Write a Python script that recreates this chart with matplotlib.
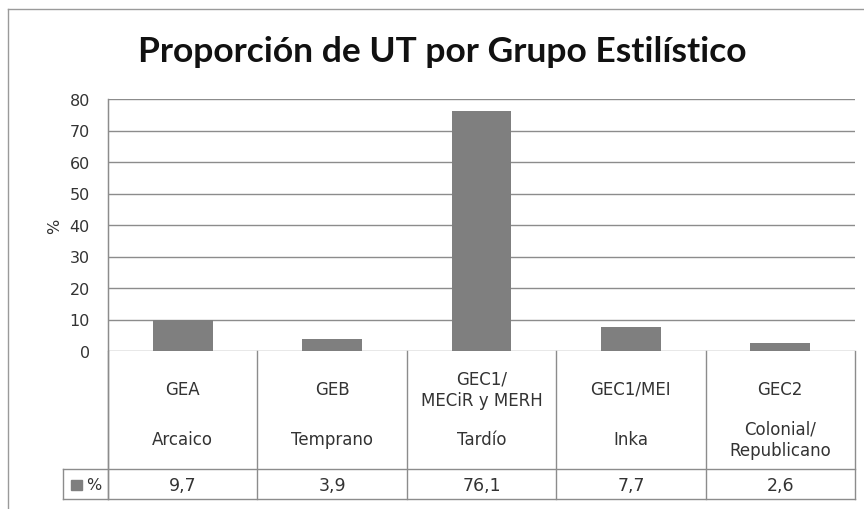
import matplotlib.pyplot as plt
from matplotlib.lines import Line2D
from matplotlib.patches import Rectangle

# ---------------------------
# Data
# ---------------------------
grupos = ["GEA", "GEB", "GEC1/\nMECiR y MERH", "GEC1/MEI", "GEC2"]
periodos = ["Arcaico", "Temprano", "Tardío", "Inka", "Colonial/\nRepublicano"]
valores = [9.7, 3.9, 76.1, 7.7, 2.6]
etiquetas = ["9,7", "3,9", "76,1", "7,7", "2,6"]
yticks = [0, 10, 20, 30, 40, 50, 60, 70, 80]

W, H = 864, 510
bar_color = "#7f7f7f"
line_color = "#8c8c8c"
txt_color = "#333333"
font = "DejaVu Sans"

fig = plt.figure(figsize=(W / 100, H / 100), dpi=100)

# pixel helpers (figure coords from top-left pixels)
def fx(px):
    return px / W

def fy(py):
    return 1 - py / H

left, right, top, bottom = 108, 855, 100, 352
ax = fig.add_axes([fx(left), fy(bottom), fx(right - left), fy(top) - fy(bottom)])

x = list(range(len(valores)))
ax.bar(x, valores, width=0.4, color=bar_color, zorder=3)
ax.set_xlim(-0.5, len(valores) - 0.5)
ax.set_ylim(0, 80)
ax.set_yticks(yticks)
ax.set_yticklabels([str(t) for t in yticks], fontsize=11.5, family=font, color=txt_color)
ax.tick_params(axis="y", length=0, pad=13)
ax.set_xticks([])
ax.grid(axis="y", color=line_color, linewidth=1, zorder=0)
for s in ["top", "right", "bottom"]:
    ax.spines[s].set_visible(False)
ax.spines["left"].set_color(line_color)
ax.set_ylabel("%", fontsize=11.5, family=font, color=txt_color, labelpad=5)

# title
fig.text(fx(442), fy(52), "Proporción de UT por Grupo Estilístico", ha="center", va="center",
         fontsize=25.5, fontweight="bold", family="Lato", color="#111111")

# outer chart border (left/top only visible)
fig.add_artist(Line2D([fx(8), fx(8)], [fy(10), 0], color="#9a9a9a", lw=1))
fig.add_artist(Line2D([fx(8), 1], [fy(10), fy(10)], color="#9a9a9a", lw=1))

# ---------------------------
# Data table below the axis
# ---------------------------
row1, row2, row_end = 352, 470, 500
lab_left = 63

def hline(y, x0, x1):
    fig.add_artist(Line2D([fx(x0), fx(x1)], [fy(y), fy(y)], color=line_color, lw=1))

def vline(xp, y0, y1):
    fig.add_artist(Line2D([fx(xp), fx(xp)], [fy(y0), fy(y1)], color=line_color, lw=1))

hline(row2, lab_left, right)
hline(row_end, lab_left, right)
vline(lab_left, row2, row_end)
vline(left, top, row_end)

to_fig = fig.transFigure.inverted()
for i in range(len(valores) + 1):
    xb = ax.transData.transform((i - 0.5, 0))
    xb = to_fig.transform(xb)[0]
    fig.add_artist(Line2D([xb, xb], [fy(row1), fy(row_end)], color=line_color, lw=1))

for i, (g, p, e) in enumerate(zip(grupos, periodos, etiquetas)):
    xc = to_fig.transform(ax.transData.transform((i, 0)))[0]
    fig.text(xc, fy(390), g, ha="center", va="center", fontsize=12, family=font,
             color=txt_color, linespacing=1.25)
    fig.text(xc, fy(440), p, ha="center", va="center", fontsize=12, family=font,
             color=txt_color, linespacing=1.25)
    fig.text(xc, fy(486), e, ha="center", va="center", fontsize=12.5, family=font,
             color=txt_color)

# legend key in row label
fig.add_artist(Rectangle((fx(71), fy(491)), fx(11), fy(481) - fy(491),
                         color=bar_color, transform=fig.transFigure))
fig.text(fx(86), fy(486), "%", ha="left", va="center", fontsize=11.5, family=font,
         color=txt_color)

plt.savefig("out.png", dpi=100)
